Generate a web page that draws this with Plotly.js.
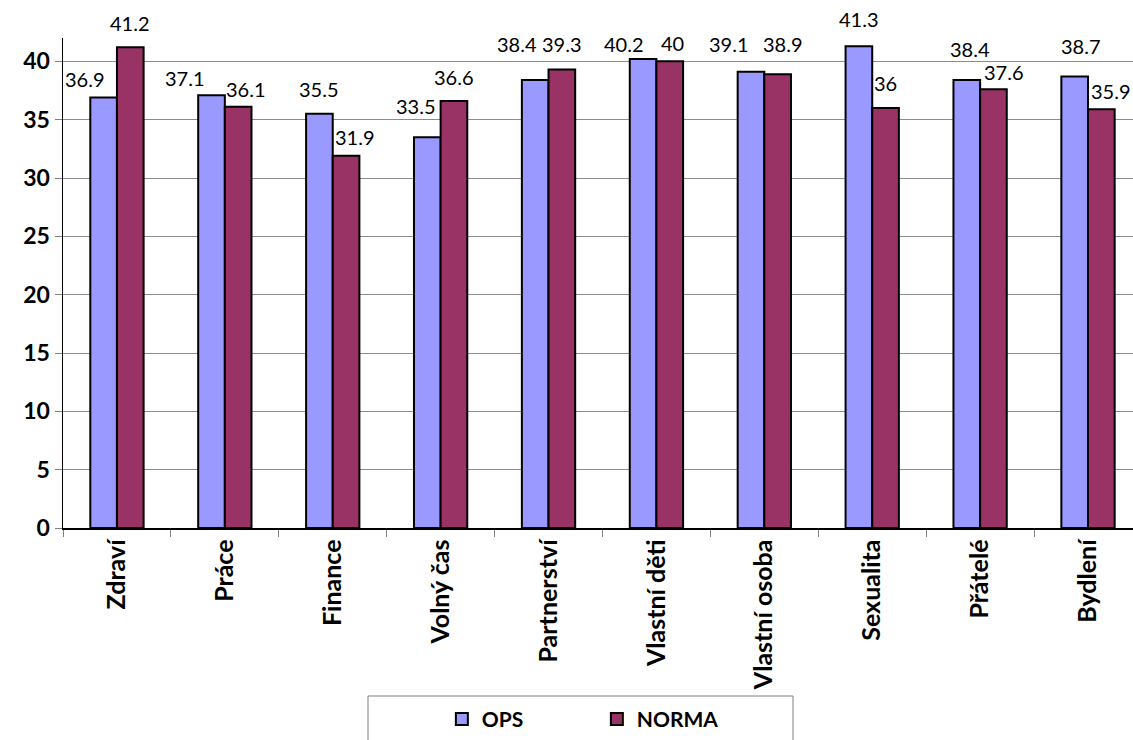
<!DOCTYPE html>
<html>
<head>
<meta charset="utf-8">
<script src="https://cdn.plot.ly/plotly-3.0.1.min.js"></script>
<style>html,body{margin:0;padding:0;background:#fff;}#chart{width:1133px;height:740px;}</style>
</head>
<body>
<div id="chart"></div>
<script>
const categories = ["Zdraví","Práce","Finance","Volný čas","Partnerství","Vlastní děti","Vlastní osoba","Sexualita","Přátelé","Bydlení"];
const opsValues = [36.9, 37.1, 35.5, 33.5, 38.4, 40.2, 39.1, 41.3, 38.4, 38.7];
const normaValues = [41.2, 36.1, 31.9, 36.6, 39.3, 40.0, 38.9, 36.0, 37.6, 35.9];
const seriesNames = ["OPS", "NORMA"];

// label placement (style only): pixel nudges mimicking the original's label layout
const opsLabelDx = [-19, -27, 0, -11, -18, -19, -22, 0, 3, 6];
const opsLabelDy = [19, 17, 25, 31, 36, 15, 28, 27, 31, 31];
const normaLabelDx = [0, 8, 9, 0, 0, 3, 5, 0, 11, 10];
const normaLabelDy = [24, 18, 19, 24, 26, 18, 30, 25, 17, 18];

const FONT = "Lato, 'Open Sans', sans-serif";
const barHalf = 13.3;

const traces = [
  {type: "bar", name: seriesNames[0], x: categories, y: opsValues,
   marker: {color: "#9999FF", line: {color: "#000000", width: 2}}, cliponaxis: false, hoverinfo: "none"},
  {type: "bar", name: seriesNames[1], x: categories, y: normaValues,
   marker: {color: "#993366", line: {color: "#000000", width: 2}}, cliponaxis: false, hoverinfo: "none"}
];

const annotations = [];
categories.forEach((c, i) => {
  annotations.push({x: c, y: opsValues[i], xref: "x", yref: "y", text: String(opsValues[i]), showarrow: false,
    xshift: -barHalf + opsLabelDx[i], yshift: opsLabelDy[i], yanchor: "middle", xanchor: "center",
    font: {family: FONT, size: 20, color: "#000"}});
  annotations.push({x: c, y: normaValues[i], xref: "x", yref: "y", text: String(normaValues[i]), showarrow: false,
    xshift: barHalf + normaLabelDx[i], yshift: normaLabelDy[i], yanchor: "middle", xanchor: "center",
    font: {family: FONT, size: 20, color: "#000"}});
});

const layout = {
  width: 1133, height: 740,
  margin: {l: 63, r: 0, t: 38, b: 212, pad: 0},
  paper_bgcolor: "#fff", plot_bgcolor: "#fff",
  font: {family: FONT, color: "#000"},
  barmode: "group", bargap: 0.506, bargroupgap: 0,
  showlegend: true,
  legend: {orientation: "h", xref: "container", yref: "container", x: 0.39, y: 0.028,
    xanchor: "left", yanchor: "middle", font: {family: FONT, size: 21, weight: "bold", color: "#000"},
    bgcolor: "rgba(0,0,0,0)", borderwidth: 0, entrywidth: 110, traceorder: "normal", itemwidth: 30},
  xaxis: {type: "category", range: [-0.5, 9.417], tickson: "boundaries", ticks: "outside", ticklen: 7,
    tickcolor: "#808080", tickwidth: 1, tickangle: -90, showline: true, linecolor: "#000", linewidth: 1.5,
    showgrid: false, zeroline: false, tickfont: {family: FONT, size: 25, weight: "bold", color: "#000"}, fixedrange: true},
  yaxis: {range: [0, 42], dtick: 5, tick0: 0, ticks: "outside", ticklen: 7, tickcolor: "#808080",
    showline: true, linecolor: "#000", linewidth: 1.5, showgrid: true, gridcolor: "#8c8c8c", gridwidth: 1,
    zeroline: false, tickfont: {family: FONT, size: 23, weight: "bold", color: "#000"}, fixedrange: true},
  shapes: [{type: "rect", xref: "paper", yref: "paper", x0: (368 - 63) / 1070, x1: (793 - 63) / 1070,
    y0: -(760 - 528) / 490, y1: -(696 - 528) / 490, line: {color: "#808080", width: 1}, fillcolor: "rgba(0,0,0,0)"}],
  annotations: annotations
};

Plotly.newPlot("chart", traces, layout, {staticPlot: true, displayModeBar: false});
</script>
</body>
</html>
